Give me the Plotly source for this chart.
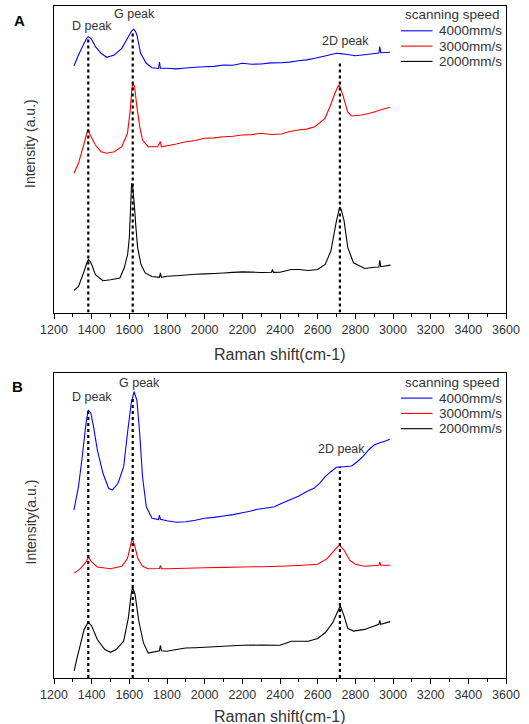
import plotly.graph_objects as go

W, H = 529, 724

# ---------------- DATA (intensity in arbitrary units) ----------------
series_names = ["4000mm/s", "3000mm/s", "2000mm/s"]
series_colors = ["#0000ff", "#ff0000", "#000000"]
legend_title = "scanning speed"
peak_labels = ["D peak", "G peak", "2D peak"]
peak_positions = [1382, 1618, 2718]

# Panel A
a_blue_x = [1306, 1330, 1360, 1375, 1382, 1390, 1400, 1420, 1450, 1480, 1520, 1560, 1590, 1610, 1622,
            1632, 1640, 1660, 1690, 1720, 1755, 1760, 1765, 1800, 1850, 1900, 1950, 2000, 2050, 2100,
            2150, 2200, 2250, 2300, 2350, 2408, 2450, 2497, 2540, 2585, 2639, 2700, 2720, 2750, 2800,
            2870, 2925, 2930, 2935, 2984]
a_blue_y = [246.5, 257.5, 269.2, 274.5, 275.8, 275.0, 273.2, 265.8, 259.2, 255.2, 257.5, 264.2, 274.2,
            281.0, 283.2, 281.5, 277.5, 259.2, 249.2, 244.8, 244.0, 250.5, 244.2, 244.2, 243.6, 244.5,
            245.2, 245.8, 246.1, 247.5, 247.2, 249.2, 248.3, 248.5, 249.6, 249.8, 250.4, 251.8, 252.6,
            254.2, 256.5, 259.2, 258.9, 258.2, 256.8, 258.2, 259.5, 265.8, 259.8, 260.2]

a_red_x = [1306, 1330, 1360, 1375, 1382, 1392, 1420, 1450, 1480, 1520, 1560, 1590, 1605, 1612, 1618,
           1628, 1640, 1655, 1670, 1700, 1750, 1765, 1770, 1800, 1850, 1900, 1950, 2000, 2050, 2100,
           2150, 2200, 2250, 2300, 2350, 2408, 2450, 2497, 2540, 2585, 2639, 2665, 2692, 2705, 2713,
           2722, 2736, 2759, 2780, 2833, 2870, 2904, 2940, 2984]
a_red_y = [139.2, 149.2, 169.2, 180.0, 183.2, 177.5, 167.5, 160.8, 159.2, 160.8, 165.8, 179.2, 202.5,
           220.0, 229.2, 225.8, 205.8, 185.8, 172.5, 165.8, 165.8, 171.0, 165.6, 166.8, 168.5, 170.8,
           172.0, 174.2, 174.6, 175.8, 176.3, 177.5, 177.9, 179.2, 178.0, 178.5, 181.0, 182.5, 183.4,
           185.8, 194.2, 205.8, 219.2, 225.0, 227.5, 224.0, 215.8, 200.8, 196.5, 197.5, 199.0, 200.8,
           203.0, 205.2]

a_black_x = [1307, 1330, 1360, 1375, 1383, 1392, 1400, 1420, 1460, 1500, 1550, 1573, 1591, 1600, 1606,
             1612, 1617, 1626, 1635, 1644, 1662, 1684, 1720, 1760, 1765, 1770, 1800, 1850, 1900, 1950,
             2000, 2050, 2100, 2150, 2200, 2250, 2300, 2355, 2360, 2365, 2400, 2460, 2500, 2550, 2600,
             2640, 2670, 2700, 2717, 2725, 2740, 2760, 2790, 2850, 2900, 2925, 2930, 2935, 2950, 2986]
a_black_y = [22.1, 26.1, 41.3, 50.0, 53.1, 51.0, 48.0, 37.9, 31.8, 32.8, 34.5, 44.7, 58.2, 75.0, 102.0,
             129.0, 127.3, 108.8, 85.1, 64.9, 48.0, 39.6, 36.0, 35.2, 39.6, 35.2, 36.2, 36.8, 37.5, 38.2,
             38.6, 39.0, 39.5, 40.1, 40.6, 40.4, 40.0, 40.2, 43.0, 40.1, 40.3, 43.0, 43.0, 42.0, 43.0,
             48.0, 61.5, 91.9, 105.4, 103.0, 91.9, 64.9, 49.7, 44.0, 45.3, 45.5, 52.1, 45.8, 46.3, 47.4]

# Panel B
b_blue_x = [1306, 1330, 1350, 1370, 1382, 1395, 1410, 1430, 1460, 1490, 1510, 1540, 1570, 1590, 1610,
            1625, 1640, 1655, 1670, 1690, 1720, 1755, 1760, 1765, 1800, 1850, 1900, 1950, 2000, 2050,
            2100, 2150, 2200, 2240, 2280, 2320, 2370, 2410, 2460, 2500, 2540, 2580, 2610, 2640, 2670,
            2700, 2740, 2780, 2810, 2840, 2870, 2900, 2930, 2960, 2983]
b_blue_y = [168.0, 191.3, 221.3, 254.7, 268.0, 265.3, 251.3, 228.0, 204.7, 189.7, 188.0, 194.7, 211.3,
            244.7, 274.7, 286.3, 278.0, 244.7, 201.3, 171.3, 159.7, 158.5, 163.0, 158.7, 157.3, 155.7,
            156.3, 157.8, 159.7, 160.6, 162.0, 163.4, 165.3, 166.8, 168.7, 169.7, 171.3, 174.7, 178.7,
            182.0, 186.3, 189.7, 194.7, 201.3, 206.3, 210.7, 211.3, 212.0, 216.3, 221.3, 228.0, 233.0,
            235.3, 237.0, 238.7]

b_red_x = [1307, 1340, 1370, 1382, 1400, 1430, 1500, 1560, 1590, 1605, 1615, 1630, 1645, 1670, 1700,
           1760, 1765, 1770, 1800, 1900, 2000, 2100, 2200, 2300, 2400, 2500, 2600, 2650, 2690, 2715,
           2740, 2770, 2800, 2850, 2925, 2930, 2935, 2985]
b_red_y = [104.9, 109.3, 116.1, 121.1, 116.1, 111.0, 109.3, 111.7, 119.4, 131.3, 139.7, 131.3, 119.4,
           111.7, 109.3, 109.5, 112.7, 109.3, 109.3, 109.8, 110.3, 110.6, 111.0, 111.3, 111.7, 112.5,
           113.7, 119.4, 127.9, 132.9, 127.9, 117.8, 113.7, 111.7, 112.7, 116.1, 112.7, 112.7]

b_black_x = [1307, 1320, 1340, 1360, 1382, 1400, 1430, 1470, 1500, 1530, 1570, 1595, 1610, 1617, 1630,
             1650, 1675, 1700, 1760, 1765, 1770, 1800, 1850, 1900, 1950, 2000, 2100, 2200, 2300, 2400,
             2460, 2550, 2600, 2640, 2680, 2705, 2720, 2740, 2760, 2790, 2850, 2900, 2925, 2930, 2935,
             2985]
b_black_y = [7.1, 18.2, 33.4, 48.6, 56.0, 52.0, 38.5, 28.4, 25.7, 28.4, 36.8, 60.4, 84.0, 90.8, 84.0,
             57.0, 35.1, 25.0, 27.3, 32.7, 27.3, 26.7, 28.5, 30.0, 30.3, 30.7, 31.8, 32.7, 32.9, 32.7,
             36.8, 36.8, 39.5, 45.2, 55.3, 66.0, 72.2, 62.1, 49.6, 46.9, 48.6, 52.0, 53.7, 57.7, 53.7,
             56.4]

# top of each dotted marker line (intensity units)
a_peak_tops = [275.8, 280.8, 250.8]
b_peak_tops = [269.7, 281.3, 211.3]
# label anchor positions (wavenumber, intensity)
a_label_x = [1403, 1630, 2750]
a_label_y = [286.5, 298.5, 271.8]
b_label_x = [1403, 1653, 2728]
b_label_y = [280.7, 295.3, 229.0]

a_yrange = [0, 306.5]
b_yrange = [0, 304.7]

x_range = [1200, 3600]
x_title = "Raman shift(cm-1)"
a_ytitle = "Intensity (a.u.)"
b_ytitle = "Intensity(a.u.)"

# ---------------- LAYOUT HELPERS ----------------
def px_x(p):
    return p / W

def px_y(p):
    return 1 - p / H

FONT = "Arial, Liberation Sans, sans-serif"
TXT = "#333333"

panels = [
    dict(name="A", xa="x", ya="y", top=6.0, bottom=312.5, yr=a_yrange,
         curves=[(a_blue_x, a_blue_y), (a_red_x, a_red_y), (a_black_x, a_black_y)],
         tops=a_peak_tops, lx=a_label_x, ly=a_label_y, ytitle=a_ytitle, ytitle_y=144,
         letter=(19.5, 20), xtitle_y=354),
    dict(name="B", xa="x2", ya="y2", top=373.3, bottom=678.0, yr=b_yrange,
         curves=[(b_blue_x, b_blue_y), (b_red_x, b_red_y), (b_black_x, b_black_y)],
         tops=b_peak_tops, lx=b_label_x, ly=b_label_y, ytitle=b_ytitle, ytitle_y=522.5,
         letter=(17.2, 386.7), xtitle_y=716),
]

fig = go.Figure()
annotations = []
shapes = []

for i, p in enumerate(panels):
    for (xs, ys), nm, col in zip(p["curves"], series_names, series_colors):
        fig.add_trace(go.Scatter(x=xs, y=ys, mode="lines", name=nm, showlegend=False,
                                 line=dict(color=col, width=1.1, simplify=False),
                                 xaxis=p["xa"], yaxis=p["ya"]))
    xref = p["xa"]
    yref = p["ya"]
    for px_, top in zip(peak_positions, p["tops"]):
        shapes.append(dict(type="line", xref=xref, yref=yref, x0=px_, x1=px_, y0=0, y1=top,
                           line=dict(color="black", width=2.2, dash="dot")))
    for txt, lx, ly in zip(peak_labels, p["lx"], p["ly"]):
        annotations.append(dict(text=txt, x=lx, y=ly, xref=xref, yref=yref, showarrow=False,
                                font=dict(family=FONT, size=12.5, color=TXT),
                                xanchor="center", yanchor="middle"))
    annotations.append(dict(text="<b>%s</b>" % p["name"], x=px_x(p["letter"][0]), y=px_y(p["letter"][1]),
                            xref="paper", yref="paper", showarrow=False,
                            font=dict(family=FONT, size=15, color="black"),
                            xanchor="center", yanchor="middle"))
    annotations.append(dict(text=p["ytitle"], x=px_x(30), y=px_y(p["ytitle_y"]), xref="paper", yref="paper",
                            showarrow=False, textangle=-90,
                            font=dict(family=FONT, size=14, color=TXT),
                            xanchor="center", yanchor="middle"))
    annotations.append(dict(text=x_title, x=px_x(280), y=px_y(p["xtitle_y"]), xref="paper", yref="paper",
                            showarrow=False, font=dict(family=FONT, size=16, color=TXT),
                            xanchor="center", yanchor="middle"))
    top = p["top"]
    annotations.append(dict(text=legend_title, x=px_x(402.5), y=px_y(top + 9), xref="paper", yref="paper",
                            showarrow=False, font=dict(family=FONT, size=13.5, color=TXT),
                            xanchor="left", yanchor="middle"))
    for k, (nm, col) in enumerate(zip(series_names, series_colors)):
        yy = top + 24.8 + 15.3 * k
        shapes.append(dict(type="line", xref="paper", yref="paper", x0=px_x(401), x1=px_x(432.5),
                           y0=px_y(yy), y1=px_y(yy), line=dict(color=col, width=1.1)))
        annotations.append(dict(text=nm, x=px_x(436.5), y=px_y(yy), xref="paper", yref="paper",
                                showarrow=False, font=dict(family=FONT, size=13.5, color=TXT),
                                xanchor="left", yanchor="middle"))

xaxis_common = dict(range=x_range, dtick=200, tick0=1200, ticks="outside", ticklen=5, tickwidth=1,
                    tickcolor="black", showline=True, linecolor="black", linewidth=1, mirror=True,
                    showgrid=False, zeroline=False, automargin=False,
                    tickfont=dict(family=FONT, size=12.5, color=TXT),
                    minor=dict(dtick=100, ticks="outside", ticklen=3, tickcolor="black", showgrid=False),
                    domain=[px_x(54), px_x(506)])
yaxis_common = dict(showticklabels=False, ticks="", showline=True, linecolor="black", linewidth=1,
                    mirror=True, showgrid=False, zeroline=False, automargin=False)

fig.update_layout(
    width=W, height=H, margin=dict(l=0, r=0, t=0, b=0, autoexpand=False),
    paper_bgcolor="white", plot_bgcolor="white", showlegend=False,
    xaxis=dict(**xaxis_common, anchor="y"),
    xaxis2=dict(**xaxis_common, anchor="y2"),
    yaxis=dict(**yaxis_common, range=a_yrange, anchor="x",
               domain=[px_y(panels[0]["bottom"]), px_y(panels[0]["top"])]),
    yaxis2=dict(**yaxis_common, range=b_yrange, anchor="x2",
                domain=[px_y(panels[1]["bottom"]), px_y(panels[1]["top"])]),
    annotations=annotations, shapes=shapes,
)

fig.write_html("out.html", config={"displayModeBar": False},
               post_script="document.body.style.margin='0';document.body.style.padding='0';")
